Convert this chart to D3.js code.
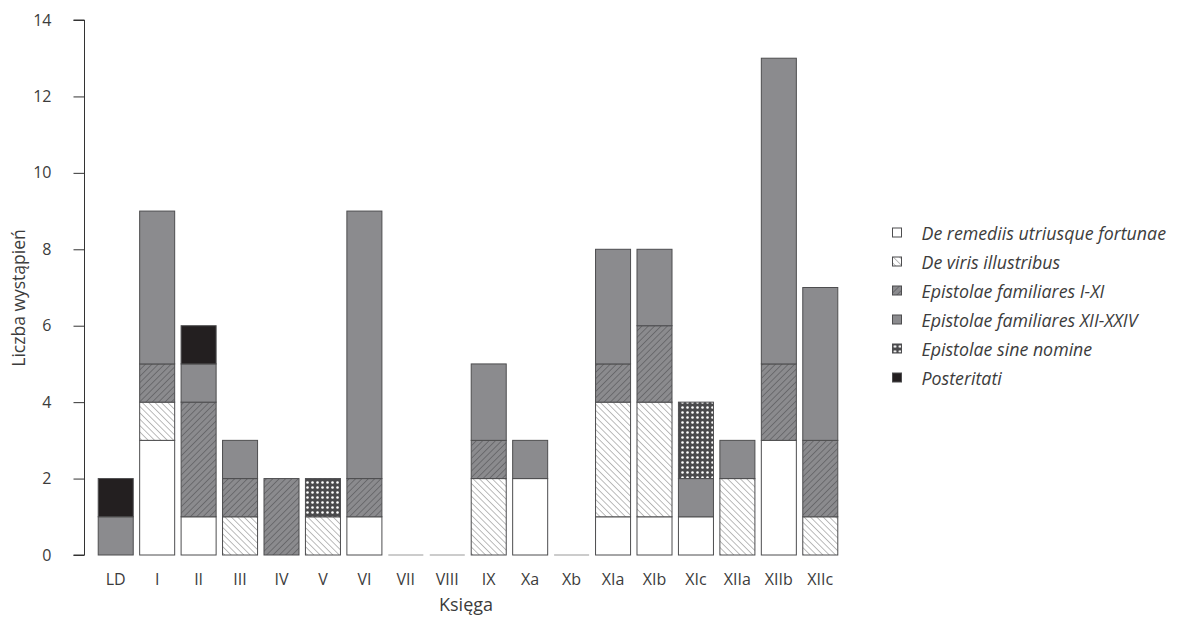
<!DOCTYPE html>
<html><head><meta charset="utf-8">
<script src="https://cdn.jsdelivr.net/npm/d3@7"></script>
<style>
body{margin:0;background:#fff;}
text{font-family:"Open Sans","Noto Sans",sans-serif;}
</style></head>
<body><svg id="c" width="1179" height="618"></svg>
<script>
const categories = ["LD","I","II","III","IV","V","VI","VII","VIII","IX","Xa","Xb","XIa","XIb","XIc","XIIa","XIIb","XIIc"];
const seriesNames = ["De remediis utriusque fortunae","De viris illustribus","Epistolae familiares I-XI","Epistolae familiares XII-XXIV","Epistolae sine nomine","Posteritati"];
const deRemediis   = [0,3,1,0,0,0,1,0,0,0,2,0,1,1,1,0,3,0];
const deViris      = [0,1,0,1,0,1,0,0,0,2,0,0,3,3,0,2,0,1];
const epFam1       = [0,1,3,1,2,0,1,0,0,1,0,0,1,2,0,0,2,2];
const epFam2       = [1,4,1,1,0,0,7,0,0,2,1,0,3,2,1,1,8,4];
const sineNomine   = [0,0,0,0,0,1,0,0,0,0,0,0,0,0,2,0,0,0];
const posteritati  = [1,0,1,0,0,0,0,0,0,0,0,0,0,0,0,0,0,0];
const yTicks = [0,2,4,6,8,10,12,14];

const seriesValues = [deRemediis, deViris, epFam1, epFam2, sineNomine, posteritati];
const fills = ["#ffffff","url(#pDV)","url(#pEF1)","#8b8b8e","url(#pSN)","#231f20"];
const textColor = "#3c3c3c";

const svg = d3.select("#c");
const defs = svg.append("defs");
let p = defs.append("pattern").attr("id","pDV").attr("patternUnits","userSpaceOnUse").attr("width",4.5).attr("height",4.5).attr("patternTransform","rotate(-45)");
p.append("rect").attr("width",4.5).attr("height",4.5).attr("fill","#fff");
p.append("line").attr("x1",0).attr("y1",0).attr("x2",0).attr("y2",4.5).attr("stroke","#6a6a6a").attr("stroke-width",0.9);
p = defs.append("pattern").attr("id","pEF1").attr("patternUnits","userSpaceOnUse").attr("width",4.5).attr("height",4.5).attr("patternTransform","rotate(45)");
p.append("rect").attr("width",4.5).attr("height",4.5).attr("fill","#8b8b8e");
p.append("line").attr("x1",0).attr("y1",0).attr("x2",0).attr("y2",4.5).attr("stroke","#4a4a4c").attr("stroke-width",1);
p = defs.append("pattern").attr("id","pSN").attr("patternUnits","userSpaceOnUse").attr("width",5).attr("height",5);
p.append("rect").attr("width",5).attr("height",5).attr("fill","#4a4a4c");
p.append("circle").attr("cx",2.5).attr("cy",2.5).attr("r",1.3).attr("fill","#fff");

const x = d3.scaleBand().domain(categories).range([95,841]).paddingInner(0.155).paddingOuter(0.0775);
const y = d3.scaleLinear().domain([0,14]).range([555,20]);

const table = categories.map((c,i)=>{const o={cat:c}; seriesNames.forEach((s,k)=>o[s]=seriesValues[k][i]); return o;});
const stacked = d3.stack().keys(seriesNames)(table);

const g = svg.append("g");
g.selectAll("line.zero").data(table.filter(d=>seriesNames.every(s=>d[s]===0))).enter().append("line")
  .attr("x1",d=>x(d.cat)).attr("x2",d=>x(d.cat)+x.bandwidth()).attr("y1",y(0)).attr("y2",y(0))
  .attr("stroke","#9a9a9a").attr("stroke-width",1.2);

stacked.forEach((layer,k)=>{
  g.append("g").selectAll("rect").data(layer.filter(d=>d[1]-d[0]>0)).enter().append("rect")
    .attr("x",d=>x(d.data.cat)).attr("width",x.bandwidth())
    .attr("y",d=>y(d[1])).attr("height",d=>y(d[0])-y(d[1]))
    .attr("fill",fills[k]).attr("stroke","#4d4d4f").attr("stroke-width",1);
});

const ya = svg.append("g").attr("transform","translate(84.5,0)")
  .call(d3.axisLeft(y).tickValues(yTicks).tickSize(11).tickPadding(22).tickFormat(d3.format("d")));
ya.select(".domain").attr("stroke","#333").attr("d","M-11,"+y(14)+"H0V"+y(0)+"H-11");
ya.selectAll(".tick line").attr("stroke","#333");
ya.selectAll(".tick text").attr("fill",textColor).style("font-size","16px").style("font-family","'Open Sans',sans-serif");

svg.append("g").selectAll("text").data(categories).enter().append("text")
  .attr("x",d=>x(d)+x.bandwidth()/2).attr("y",585).attr("text-anchor","middle")
  .attr("fill",textColor).style("font-size","16px").text(d=>d);

svg.append("text").attr("x",466).attr("y",611).attr("text-anchor","middle").attr("fill",textColor)
  .style("font-size","18px").text("Księga");
svg.append("text").attr("transform","translate(25,298) rotate(-90)").attr("text-anchor","middle").attr("fill",textColor)
  .style("font-size","17.5px").text("Liczba wystąpień");

const lg = svg.append("g").selectAll("g").data(seriesNames).enter().append("g")
  .attr("transform",(d,i)=>`translate(892.5,${228+i*29})`);
lg.append("rect").attr("width",9).attr("height",9).attr("fill",(d,i)=>fills[i]).attr("stroke","#4d4d4f").attr("stroke-width",1);
lg.append("text").attr("x",29).attr("y",11.5).attr("fill",textColor).style("font-size","17.8px").style("font-style","italic").text(d=>d);
</script></body></html>
